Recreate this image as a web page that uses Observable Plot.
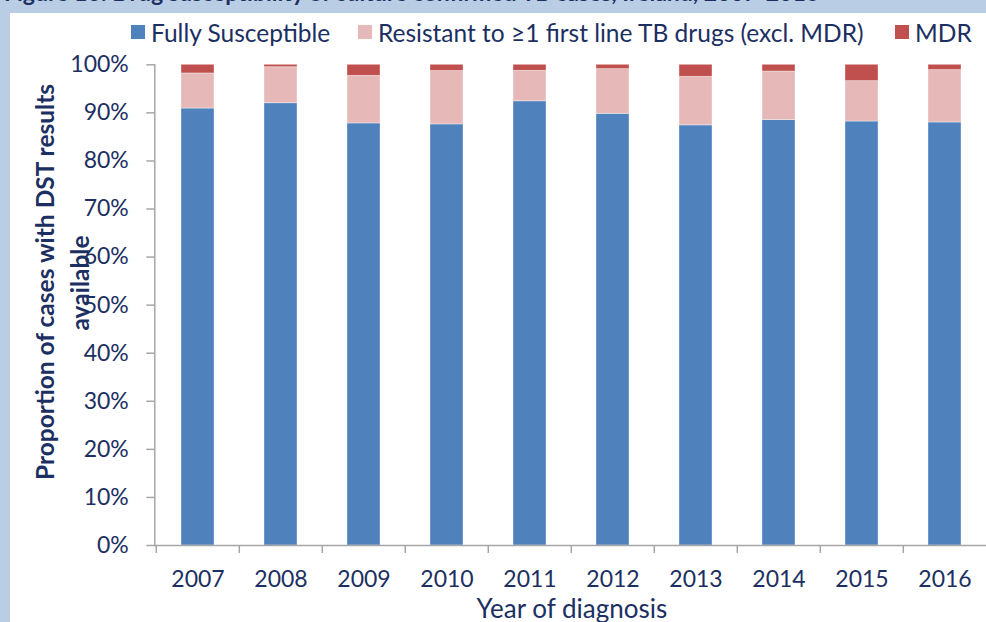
<!DOCTYPE html>
<html><head><meta charset="utf-8">
<script src="https://cdn.jsdelivr.net/npm/d3@7"></script>
<script src="https://cdn.jsdelivr.net/npm/@observablehq/plot@0.6"></script>
<style>
body{margin:0;width:986px;height:622px;overflow:hidden;background:#b9cde4;font-family:Lato,"Open Sans",sans-serif;position:relative}
#panel{position:absolute;left:10px;top:13px;width:1000px;height:620px;background:#fff}
#title{position:absolute;left:4px;top:-21px;font-size:23px;line-height:26px;font-weight:bold;color:#1c2f62;white-space:nowrap}
#legend{position:absolute;left:0;top:19px;height:26px;width:986px;font-size:24.5px;color:#1c2f62;white-space:nowrap}
#legend .item{position:absolute;top:0;display:flex;align-items:center;gap:6px;height:26px}
#legend .sw{width:14px;height:14px;display:inline-block}
#chart{position:absolute;left:0;top:0}
.ylab{position:absolute;transform:translate(-50%,-50%) rotate(-90deg);white-space:nowrap;font-weight:bold;font-size:24.5px;color:#1c2f62;line-height:1}
</style></head>
<body>
<div id="panel"></div>
<div id="title">Figure 10: Drug susceptibility of culture confirmed TB cases, Ireland, 2007-2016</div>
<div id="legend"></div>
<div id="chart"></div>
<div class="ylab" id="ylab1" style="left:45px;top:282px"></div>
<div class="ylab" id="ylab2" style="left:80px;top:283px"></div>
<script>
const years = ["2007","2008","2009","2010","2011","2012","2013","2014","2015","2016"];
const fullySusceptible = [90.9, 92.0, 87.8, 87.6, 92.4, 89.8, 87.4, 88.5, 88.2, 88.0];
const resistant = [7.3, 7.5, 9.9, 11.1, 6.35, 9.3, 10.1, 10.1, 8.4, 10.9];
const mdr = [1.8, 0.5, 2.3, 1.3, 1.25, 0.9, 2.5, 1.4, 3.4, 1.1];
const seriesNames = ["Fully Susceptible", "Resistant to \u22651 first line TB drugs (excl. MDR)", "MDR"];
const seriesColors = ["#4f81bd", "#e6b9b8", "#c0504d"];
const yTicks = [0,10,20,30,40,50,60,70,80,90,100];
const yLabel1 = "Proportion of cases with DST results";
const yLabel2 = "available";
const xLabel = "Year of diagnosis";

const seriesValues = [fullySusceptible, resistant, mdr];
const data = [];
seriesNames.forEach((s, si) => years.forEach((y, i) => data.push({year: y, series: s, value: seriesValues[si][i]})));

const W = 990, H = 622, ML = 154.3, MR = 1.5, MT = 64.3, MB = 77;
const step = (W - ML - MR) / years.length;
const textColor = "#1c2f62";
const axisColor = "#a6a6a6";

const chart = Plot.plot({
  width: W, height: H,
  marginLeft: ML, marginRight: MR, marginTop: MT, marginBottom: MB,
  style: {background: "transparent", maxWidth: "none", fontFamily: "Lato, 'Open Sans', sans-serif", color: textColor, overflow: "visible"},
  x: {domain: years, paddingInner: 0.6, paddingOuter: 0.3, align: 0.5},
  y: {domain: [0, 100]},
  color: {domain: seriesNames, range: seriesColors},
  marks: [
    Plot.barY(data, Plot.stackY({order: seriesNames}, {x: "year", y: "value", fill: "series", stroke: "#ffffff", strokeOpacity: 0.45, strokeWidth: 0.8})),
    Plot.frame({anchor: "left", stroke: axisColor, strokeWidth: 1.5}),
    Plot.ruleY([0], {stroke: axisColor, strokeWidth: 1.5}),
    Plot.ruleX(years, {x: d => d, y1: 0, y2: 0, insetBottom: -8, dx: -step / 2, stroke: axisColor, strokeWidth: 1.5}),
    Plot.axisY({ticks: yTicks, tickFormat: d => d + "%", tickSize: 8, tickPadding: 18, fontSize: 23, stroke: axisColor, strokeWidth: 1.5, label: null, fill: textColor}),
    Plot.axisX({tickSize: 0, tickPadding: 25, fontSize: 23, label: null, fill: textColor}),
    Plot.text([xLabel], {text: d => d, frameAnchor: "bottom", dy: 72, fontSize: 26, fill: textColor})
  ]
});
document.getElementById("chart").appendChild(chart);
document.getElementById("ylab1").textContent = yLabel1;
document.getElementById("ylab2").textContent = yLabel2;

const legend = document.getElementById("legend");
const legendLeft = [131, 358, 895];
seriesNames.forEach((s, i) => {
  const it = document.createElement("div"); it.className = "item"; it.style.left = legendLeft[i] + "px";
  const sw = document.createElement("span"); sw.className = "sw"; sw.style.background = seriesColors[i];
  const t = document.createElement("span"); t.textContent = s;
  it.appendChild(sw); it.appendChild(t); legend.appendChild(it);
});
</script>
</body></html>
